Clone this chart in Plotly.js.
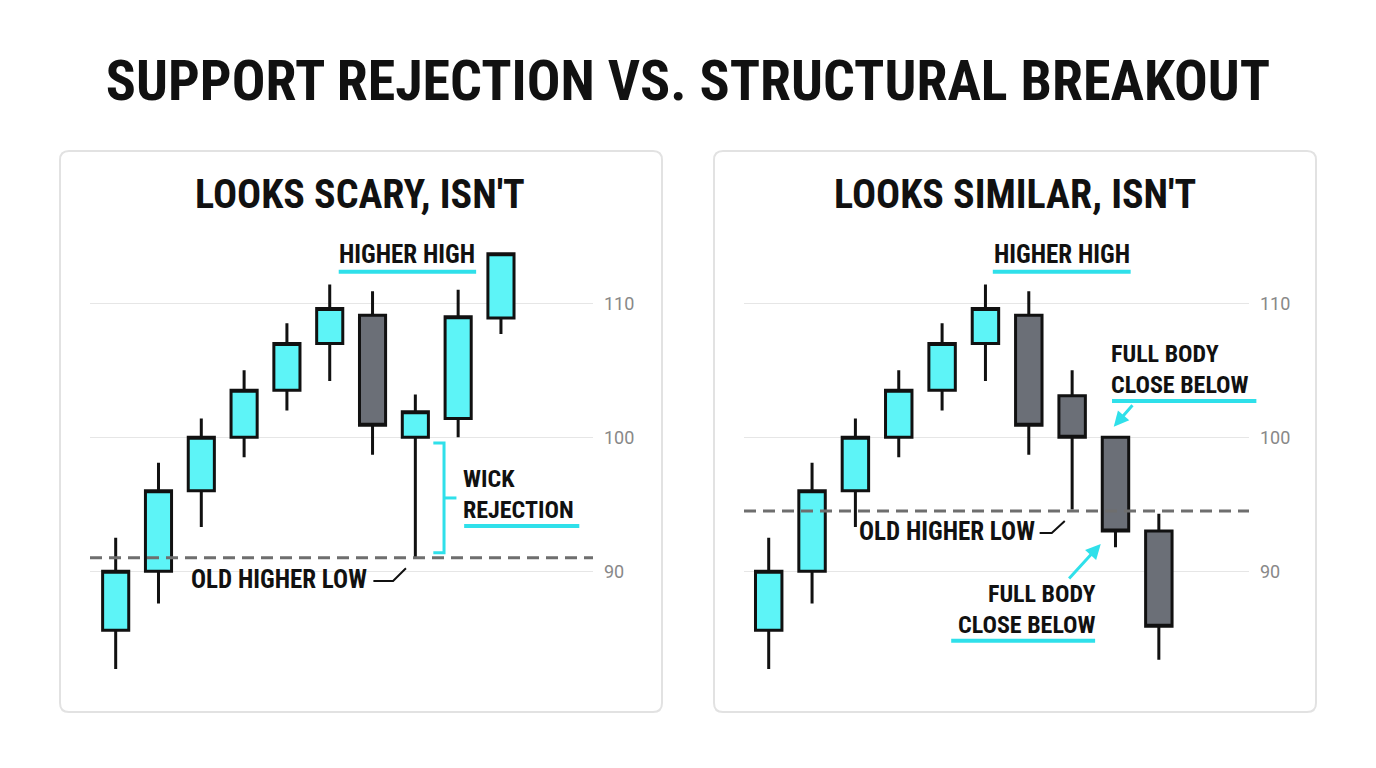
<!DOCTYPE html>
<html>
<head>
<meta charset="utf-8">
<script src="https://cdn.plot.ly/plotly-3.0.1.min.js"></script>
<style>
html,body{margin:0;padding:0;background:#fff;}
#chart{width:1376px;height:768px;}
</style>
</head>
<body>
<div id="chart"></div>
<script>
// ---------- DATA ----------
const candleIndex = [0,1,2,3,4,5,6,7,8,9];

// Left panel: "Looks scary, isn't" (support rejection)
const leftOpen  = [85.6, 90.0, 96.0, 100.0, 103.5, 107.0, 109.1, 100.0, 101.4, 108.9];
const leftHigh  = [92.5, 98.1, 101.4, 105.0, 108.5, 111.4, 110.9, 103.2, 111.0, 113.7];
const leftLow   = [82.7, 87.6, 93.3, 98.5, 102.0, 104.2, 98.7, 91.0, 100.0, 107.7];
const leftClose = [90.0, 96.0, 100.0, 103.5, 107.0, 109.6, 100.9, 101.9, 109.0, 113.7];

// Right panel: "Looks similar, isn't" (structural breakout)
const rightOpen  = [85.6, 90.0, 96.0, 100.0, 103.5, 107.0, 109.1, 103.1, 100.0, 93.0];
const rightHigh  = [92.5, 98.1, 101.4, 105.0, 108.5, 111.4, 110.9, 105.0, 100.0, 94.3];
const rightLow   = [82.7, 87.6, 93.3, 98.5, 102.0, 104.2, 98.7, 94.6, 91.8, 83.4];
const rightClose = [90.0, 96.0, 100.0, 103.5, 107.0, 109.6, 100.9, 100.0, 93.0, 85.9];

// Old higher low levels (dashed lines)
const oldHigherLow = [91.0, 94.5];

const priceTicks = [90, 100, 110];
const priceTickText = ['90', '100', '110'];

const mainTitle = 'SUPPORT REJECTION VS. STRUCTURAL BREAKOUT';
const panelTitles = ["LOOKS SCARY, ISN'T", "LOOKS SIMILAR, ISN'T"];

// ---------- STYLE / GEOMETRY ----------
const W = 1376, H = 768;
const CYAN = '#5df4f7', ACCENT = '#2fe0ea', DARK = '#6b6f77', INK = '#111111';
const COND = 'Roboto Condensed, Liberation Sans Narrow, Roboto, sans-serif';

const P = {
  L: {x0: 90,  x1: 593,  y0: 240, y1: 690, xr: [-0.6, 11.15], yr: [81.14, 114.72]},
  R: {x0: 744, x1: 1249, y0: 240, y1: 690, xr: [-0.57, 11.08], yr: [81.14, 114.72]}
};
function fx(p, x){ const px = p.x0 + (x - p.xr[0]) / (p.xr[1] - p.xr[0]) * (p.x1 - p.x0); return px / W; }
function fy(p, y){ const py = p.y1 - (y - p.yr[0]) / (p.yr[1] - p.yr[0]) * (p.y1 - p.y0); return 1 - py / H; }

function roundRect(x0, y0, x1, y1, r){
  const a = x0/W, b = 1 - y0/H, c = x1/W, d = 1 - y1/H, rx = r/W, ry = r/H;
  return `M ${a+rx},${b} L ${c-rx},${b} Q ${c},${b} ${c},${b-ry} L ${c},${d+ry} Q ${c},${d} ${c-rx},${d} ` +
         `L ${a+rx},${d} Q ${a},${d} ${a},${d+ry} L ${a},${b-ry} Q ${a},${b} ${a+rx},${b} Z`;
}
function seg(p, pts, color, width){
  const path = pts.map((q, i) => (i ? 'L ' : 'M ') + fx(p, q[0]) + ',' + fy(p, q[1])).join(' ');
  return {type: 'path', xref: 'paper', yref: 'paper', path: path, line: {color: color, width: width}};
}

function candle(o, h, l, c, xa, ya){
  return {
    type: 'candlestick', x: candleIndex, open: o, high: h, low: l, close: c,
    xaxis: xa, yaxis: ya, whiskerwidth: 0, hoverinfo: 'skip', showlegend: false,
    increasing: {fillcolor: CYAN, line: {color: INK, width: 3}},
    decreasing: {fillcolor: DARK, line: {color: INK, width: 3}}
  };
}

const data = [
  candle(leftOpen, leftHigh, leftLow, leftClose, 'x', 'y'),
  candle(rightOpen, rightHigh, rightLow, rightClose, 'x2', 'y2')
];

function xAxis(p){
  return {domain: [p.x0/W, p.x1/W], range: p.xr, showgrid: false, zeroline: false,
          showticklabels: false, ticks: '', rangeslider: {visible: false}, fixedrange: true};
}
function yAxis(p, anchor){
  return {domain: [1 - p.y1/H, 1 - p.y0/H], range: p.yr, side: 'right', anchor: anchor,
          tickvals: priceTicks, ticktext: priceTickText, showgrid: true, gridcolor: '#e6e6e6', gridwidth: 1,
          zeroline: false, showline: false, ticks: '', ticklabelstandoff: 10,
          tickfont: {family: 'Roboto, sans-serif', size: 18, color: '#888888'}, fixedrange: true};
}

const DASH = {color: '#6e6e6e', width: 3, dash: '12px,7px'};
const shapes = [
  {type: 'path', xref: 'paper', yref: 'paper', path: roundRect(60, 151, 662, 712, 9), line: {color: '#e2e2e2', width: 2}, fillcolor: 'rgba(0,0,0,0)', layer: 'below'},
  {type: 'path', xref: 'paper', yref: 'paper', path: roundRect(714, 151, 1316, 712, 9), line: {color: '#e2e2e2', width: 2}, fillcolor: 'rgba(0,0,0,0)', layer: 'below'},
  // dashed old higher low lines
  Object.assign(seg(P.L, [[P.L.xr[0], oldHigherLow[0]], [P.L.xr[1], oldHigherLow[0]]], '#6e6e6e', 3), {line: DASH}),
  Object.assign(seg(P.R, [[P.R.xr[0], oldHigherLow[1]], [P.R.xr[1], oldHigherLow[1]]], '#6e6e6e', 3), {line: DASH}),
  // left underlines
  seg(P.L, [[5.21, 112.36], [8.42, 112.36]], ACCENT, 4),
  seg(P.L, [[8.14, 93.38], [10.83, 93.38]], ACCENT, 4),
  // wick bracket
  seg(P.L, [[7.42, 99.57], [7.67, 99.57], [7.67, 91.39], [7.42, 91.39]], ACCENT, 3),
  seg(P.L, [[7.67, 95.47], [7.96, 95.47]], ACCENT, 3),
  // left leader
  seg(P.L, [[6.02, 89.28], [6.48, 89.28], [6.78, 90.22]], INK, 2),
  // right underlines
  seg(P.R, [[5.17, 112.36], [8.35, 112.36]], ACCENT, 4),
  seg(P.R, [[7.92, 102.71], [11.25, 102.71]], ACCENT, 4),
  seg(P.R, [[4.21, 84.82], [7.53, 84.82]], ACCENT, 4),
  // right leader
  seg(P.R, [[6.25, 92.86], [6.53, 92.86], [6.83, 93.75]], INK, 2)
];

function lbl(text, xa, ya, x, y, xanchor, size){
  return {text: text, xref: xa, yref: ya, x: x, y: y, xanchor: xanchor, yanchor: 'middle', showarrow: false,
          align: xanchor === 'center' ? 'center' : xanchor, borderpad: 0,
          font: {family: COND, size: size || 25, color: INK, weight: 700}};
}
function arrow(xa, ya, x, y, ax, ay){
  return {text: '', xref: xa, yref: ya, x: x, y: y, ax: ax, ay: ay, showarrow: true,
          arrowhead: 2, arrowsize: 1, arrowwidth: 3, arrowcolor: ACCENT};
}

const annotations = [
  {text: panelTitles[0], xref: 'paper', yref: 'paper', x: 360/W, y: 1 - 194/H, xanchor: 'center', yanchor: 'middle', showarrow: false,
   font: {family: COND, size: 40, color: INK, weight: 700}},
  {text: panelTitles[1], xref: 'paper', yref: 'paper', x: 1015/W, y: 1 - 194/H, xanchor: 'center', yanchor: 'middle', showarrow: false,
   font: {family: COND, size: 40, color: INK, weight: 700}},
  lbl('HIGHER HIGH', 'x', 'y', 6.81, 113.64, 'center'),
  lbl('WICK<br>REJECTION', 'x', 'y', 8.08, 95.72, 'left', 24),
  lbl('OLD HIGHER LOW', 'x', 'y', 5.90, 89.4, 'right'),
  lbl('HIGHER HIGH', 'x2', 'y2', 6.77, 113.64, 'center'),
  lbl('FULL BODY<br>CLOSE BELOW', 'x2', 'y2', 7.87, 105.02, 'left', 24),
  lbl('OLD HIGHER LOW', 'x2', 'y2', 6.16, 92.94, 'right'),
  lbl('FULL BODY<br>CLOSE BELOW', 'x2', 'y2', 7.57, 87.12, 'right', 24),
  arrow('x2', 'y2', 7.96, 100.79, 20, -23),
  arrow('x2', 'y2', 7.66, 92.04, -33, 36)
];

const layout = {
  width: W, height: H, margin: {l: 0, r: 0, t: 0, b: 0},
  paper_bgcolor: '#ffffff', plot_bgcolor: 'rgba(0,0,0,0)',
  title: {text: mainTitle, x: 0.5, xanchor: 'center', xref: 'paper', y: 1 - 80/H, yanchor: 'middle', yref: 'container',
          font: {family: COND, size: 56, color: INK, weight: 700}},
  boxgap: 0.39, boxgroupgap: 0,
  xaxis: xAxis(P.L), yaxis: yAxis(P.L, 'x'),
  xaxis2: xAxis(P.R), yaxis2: yAxis(P.R, 'x2'),
  shapes: shapes, annotations: annotations,
  showlegend: false, hovermode: false
};

Plotly.newPlot('chart', data, layout, {displayModeBar: false, staticPlot: true});
</script>
</body>
</html>
